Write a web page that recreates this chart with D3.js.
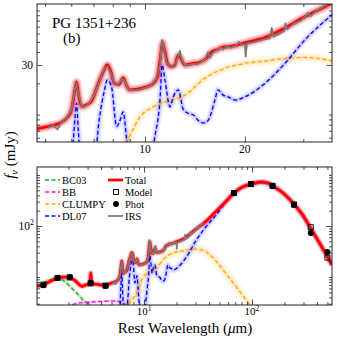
<!DOCTYPE html>
<html><head><meta charset="utf-8">
<script src="https://cdn.jsdelivr.net/npm/d3@7"></script>
<style>body{margin:0;background:#fff}</style>
</head><body>
<svg id="c" width="337" height="339"></svg>
<script>
// ---------- data (wavelength in micron, flux in mJy) ----------
const totalLam = [1.02,1.17,1.4,1.58,1.8,2.05,2.3,2.5,2.65,2.9,3.15,3.21,3.27,3.5,4.0,4.4,4.73,5.2,5.55,5.85,6.0,6.15,6.22,6.32,6.45,6.7,6.9,7.2,7.5,7.7,7.85,8.1,8.35,8.6,8.8,9.0,9.5,10.0,10.5,10.9,11.1,11.3,11.45,11.7,12.0,12.3,12.6,12.8,13.2,14.0,14.5,15.2,15.9,16.5,17.0,17.4,18.0,20,23,26.4,30.3,36.6,46,57,68,80,98,121,140,156,200,249,300,350,450,551];
const totalVal = [6.6,7.1,8.5,9.6,10.0,9.8,8.5,7.2,6.6,7.0,7.5,12,7.5,7.3,7.0,6.8,7.3,7.8,8.3,9.5,11,17,20.5,15,12,12.5,13.5,19,26,30,27,20,19.5,22.5,19,17.3,17.6,18.3,19.5,23,33,49,42,31,29,30,37,35,30,31,31.5,34,40,42,44,44.6,45,48.9,55,68,87,118,190,300,443,570,665,730,700,610,420,258,157,90,37,17.2];

const irsLam = [5.1,5.3,5.45,5.6,5.8,6.0,6.1,6.2,6.3,6.45,6.6,6.8,7.0,7.3,7.55,7.7,7.9,8.1,8.3,8.55,8.7,8.9,9.2,9.6,10.0,10.4,10.8,11.1,11.25,11.4,11.6,11.9,12.2,12.5,12.75,12.9,13.2,13.6,14.0,14.4,14.8,15.2,15.5,15.7,16.0,16.5,17.0,17.2,17.6,18.2,18.8,19.2,19.6,20.0,20.1,20.3,21,22,23,23.8,24.1,24.4,25.5,26.3,26.5,26.8,28,29.5,30.5,31,31.5,33,34.5,35.6];
const irsVal = [7.5,7.9,7.2,8.4,9.2,11,15,20,16,12,12,13,15,21,28,29,25,20,19.5,22,21,17.5,17,17.3,18,19,22,30,52,44,32,29,29.5,33,41,34,30,30,30.5,30.5,32,34,40,35,39,42,44,42,45,44,46,50,47,47,36,48,49,51,53,54,68,56,60,64,75,66,74,80,88,95,88,100,110,114];

const dlLam = [5.0,5.7,6.0,6.15,6.22,6.3,6.45,6.7,7.0,7.3,7.55,7.7,7.93,8.22,8.41,8.6,8.8,9.1,9.6,10.2,10.7,11.1,11.27,11.49,11.9,12.17,12.6,13.05,13.5,14.0,14.47,14.98,15.5,16.25,16.6,17.2,17.8,18.7,20,23,26.4,30.3,36.6,46,57,68,80,98,121,156,249,351,551];
const dlVal = [1.0,1.5,3.0,9,12.9,7,2.5,2.0,2.8,9.5,17,21.5,18.5,7.7,8.8,10.6,6,2.5,1.5,2.5,6,13.8,30,21.5,11.9,14.8,17.3,11.2,10.3,9.9,8.8,8.3,8.8,13.8,17.3,15.4,14.8,13.8,14.8,20,31,52,91,160,290,430,560,650,715,600,255,88,17];

const clLam = [6.0,7.16,8.8,9.66,10.6,11.6,13.2,15.1,17.4,20,23,26.4,30.3,36.5,40,46,56,75,93,110];
const clVal = [1.3,2.83,5.46,9.5,11.9,13.3,15.4,22.2,27.8,31.1,32.7,34.6,35.4,32.7,28,21,12.5,5.6,3.06,1.8];

const bcLam = [1.02,1.13,1.3,1.55,1.86,2.07,2.39,2.75,3.16,3.6,4.5,5.5];
const bcVal = [6.9,7.5,8.6,9.5,8.1,6.5,4.8,3.5,2.83,2.2,1.5,1.0];

const bbLam = [1.6,2.13,2.55,3.2,3.91,4.85,5.99,6.9,8,10];
const bbVal = [1.6,2.83,3.1,3.25,3.3,3.4,3.3,2.83,2.4,1.7];

const photLam = [1.17,1.58,2.05,3.2,4.4,68,98,155,245,350,500];
const photVal = [6.9,9.6,10.0,7.6,6.7,443,665,610,258,73,31];
const modelVal = [7.1,9.6,9.8,7.5,6.8,443,665,615,265,95,24];

const legendLeft = ["BC03","BB","CLUMPY","DL07"];
const legendRight = ["Total","Model","Phot","IRS"];

const topXMajor = [10,20], topXMinor = [5,6,7,8,9,30];
const topYMajor = [30], topYMinor = [6,7,8,9,10,20,40,50,60,70,80,90,100];
const botXMajor = [10,100], botXMinor = [2,3,4,5,6,7,8,9,20,30,40,50,60,70,80,90,200,300,400,500];
const botYMajor = [100], botYMinor = [3,4,5,6,7,8,9,10,20,30,40,50,60,70,80,90,200,300,400,500,600,700,800,900,1000];

// ---------- setup ----------
const svg = d3.select("#c");
const F = "'Liberation Serif','Times New Roman',Times,serif";
const P1 = {x0:37,x1:332,y0:4,y1:142};
const P2 = {x0:37,x1:332,y0:167,y1:305};
const xT = d3.scaleLog().domain([4.73,36.6]).range([P1.x0,P1.x1]);
const yT = d3.scaleLog().domain([5.46,115.4]).range([P1.y1,P1.y0]);
const xB = d3.scaleLog().domain([1.02,551]).range([P2.x0,P2.x1]);
const yB = d3.scaleLog().domain([2.83,1435]).range([P2.y1,P2.y0]);

const zip = (a,b)=>a.map((v,i)=>[v,b[i]]);
const C = {total:"#ff0000", irs:"#7a7a7a", dl:"#0000ff", cl:"#ffa500", bc:"#2ca02c", bb:"#ff00ff"};

const defs = svg.append("defs");
[[P1,"cp1"],[P2,"cp2"]].forEach(([P,id])=>{
  defs.append("clipPath").attr("id",id).append("rect")
    .attr("x",P.x0).attr("y",P.y0).attr("width",P.x1-P.x0).attr("height",P.y1-P.y0);
});

function drawPanel(P, cp, x, y, bottom){
  const g = svg.append("g").attr("clip-path",`url(#${cp})`);
  const lineS = d3.line().x(d=>x(d[0])).y(d=>y(d[1])).curve(d3.curveMonotoneX);
  const lineL = d3.line().x(d=>x(d[0])).y(d=>y(d[1]));
  const path = (data,gen,col,w,op,dash)=>{
    const p = g.append("path").datum(data).attr("d",gen).attr("fill","none")
      .attr("stroke",col).attr("stroke-width",w).attr("stroke-opacity",op)
      .attr("stroke-linejoin","round").attr("stroke-linecap","butt");
    if(dash) p.attr("stroke-dasharray",dash);
  };
  const tot = zip(totalLam,totalVal), dl = zip(dlLam,dlVal), cl = zip(clLam,clVal),
        bc = zip(bcLam,bcVal), bb = zip(bbLam,bbVal), irs = zip(irsLam,irsVal);
  // posterior-sample bands
  path(cl,lineS,C.cl,9,0.10); path(cl,lineS,C.cl,4,0.15);
  path(dl,lineS,C.dl,7,0.08); path(dl,lineS,C.dl,3.5,0.15);
  if(bottom){ path(bc,lineS,C.bc,4,0.2); path(bb,lineS,C.bb,3,0.2); }
  path(tot,lineS,C.total,bottom?6:9,0.18); path(tot,lineS,C.total,bottom?4:5.5,0.3);
  // components
  if(bottom){ path(bc,lineS,C.bc,1.3,1,"4,2.5"); path(bb,lineS,C.bb,1.3,1,"4,2.5"); }
  path(cl,lineS,C.cl,1.3,1,"4,2.5");
  path(dl,lineS,C.dl,1.3,1,"4,2.5");
  path(tot,lineS,C.total,2.8,1);
  path(irs,lineL,C.irs,1.8,1);
  if(bottom){
    g.selectAll("rect.m").data(zip(photLam,modelVal)).join("rect").attr("class","m")
      .attr("x",d=>x(d[0])-2.5).attr("y",d=>y(d[1])-2.5).attr("width",5).attr("height",5)
      .attr("fill","none").attr("stroke","#000").attr("stroke-width",0.9);
    g.selectAll("circle.p").data(zip(photLam,photVal)).join("circle").attr("class","p")
      .attr("cx",d=>x(d[0])).attr("cy",d=>y(d[1])).attr("r",3).attr("fill","#000");
  }
}

function axesFor(P, x, y, xMaj, xMin, yMaj, yMin){
  const ax = svg.append("g");
  const tk = (fn,scale,vals,size,tr)=>{
    ax.append("g").attr("transform",tr)
      .call(fn(scale).tickValues(vals.filter(v=>v>=scale.domain()[0]&&v<=scale.domain()[1])).tickSize(-size).tickFormat(""))
      .call(s=>{s.select(".domain").remove(); s.selectAll("line").attr("stroke","#222").attr("stroke-width",0.8);});
  };
  tk(d3.axisBottom,x,xMaj,5.5,`translate(0,${P.y1})`); tk(d3.axisBottom,x,xMin,3,`translate(0,${P.y1})`);
  tk(d3.axisTop,x,xMaj,5.5,`translate(0,${P.y0})`); tk(d3.axisTop,x,xMin,3,`translate(0,${P.y0})`);
  tk(d3.axisLeft,y,yMaj,5.5,`translate(${P.x0},0)`); tk(d3.axisLeft,y,yMin,3,`translate(${P.x0},0)`);
  tk(d3.axisRight,y,yMaj,5.5,`translate(${P.x1},0)`); tk(d3.axisRight,y,yMin,3,`translate(${P.x1},0)`);
  svg.append("rect").attr("x",P.x0).attr("y",P.y0).attr("width",P.x1-P.x0).attr("height",P.y1-P.y0)
    .attr("fill","none").attr("stroke","#222").attr("stroke-width",1);
}

drawPanel(P1,"cp1",xT,yT,false);
drawPanel(P2,"cp2",xB,yB,true);
axesFor(P1,xT,yT,topXMajor,topXMinor,topYMajor,topYMinor);
axesFor(P2,xB,yB,botXMajor,botXMinor,botYMajor,botYMinor);

// tick labels
const T = svg.append("g").attr("font-family",F).attr("fill","#000");
topXMajor.forEach(v=>T.append("text").attr("x",xT(v)).attr("y",153).attr("text-anchor","middle").attr("font-size",11.5).text(String(v)));
topYMajor.forEach(v=>T.append("text").attr("x",33).attr("y",yT(v)+4).attr("text-anchor","end").attr("font-size",11.5).text(String(v)));
botXMajor.forEach(v=>{
  const t = T.append("text").attr("x",xB(v)).attr("y",315).attr("text-anchor","middle").attr("font-size",11);
  t.append("tspan").text("10");
  t.append("tspan").attr("dy",-4.5).attr("font-size",7.5).text(String(Math.round(Math.log10(v))));
});
botYMajor.forEach(v=>{
  const t = T.append("text").attr("x",34).attr("y",yB(v)+4).attr("text-anchor","end").attr("font-size",11.5);
  t.append("tspan").text("10");
  t.append("tspan").attr("dy",-5).attr("font-size",8).text(String(Math.round(Math.log10(v))));
});

// axis titles
const yl = T.append("text").attr("transform","translate(15,155) rotate(-90)").attr("text-anchor","middle").attr("font-size",15);
yl.append("tspan").attr("font-style","italic").text("f");
yl.append("tspan").attr("dy",3).attr("font-size",10.5).attr("font-style","italic").text("ν");
yl.append("tspan").attr("dy",-3).text(" (mJy)");
const xl = T.append("text").attr("x",185).attr("y",333).attr("text-anchor","middle").attr("font-size",15);
xl.append("tspan").text("Rest Wavelength (");
xl.append("tspan").attr("font-style","italic").text("μ");
xl.append("tspan").text("m)");

// title
T.append("text").attr("x",52).attr("y",28).attr("font-size",15).text("PG 1351+236");
T.append("text").attr("x",63).attr("y",43).attr("font-size",15).text("(b)");

// legend
const L = svg.append("g").attr("font-family",F).attr("font-size",10.5);
const lcol = [C.bc,C.bb,C.cl,C.dl];
legendLeft.forEach((name,i)=>{
  const yy = 180 + i*12;
  L.append("line").attr("x1",45).attr("x2",60).attr("y1",yy).attr("y2",yy).attr("stroke",lcol[i]).attr("stroke-width",1.3).attr("stroke-dasharray","4,2.5");
  L.append("text").attr("x",62).attr("y",yy+3.5).text(name);
});
legendRight.forEach((name,i)=>{
  const yy = 180 + i*12;
  if(name==="Total") L.append("line").attr("x1",108).attr("x2",123).attr("y1",yy).attr("y2",yy).attr("stroke",C.total).attr("stroke-width",2.8);
  if(name==="IRS") L.append("line").attr("x1",108).attr("x2",123).attr("y1",yy).attr("y2",yy).attr("stroke",C.irs).attr("stroke-width",1.8);
  if(name==="Model") L.append("rect").attr("x",113.5).attr("y",yy-2.5).attr("width",5).attr("height",5).attr("fill","none").attr("stroke","#000").attr("stroke-width",0.9);
  if(name==="Phot") L.append("circle").attr("cx",116).attr("cy",yy).attr("r",3).attr("fill","#000");
  L.append("text").attr("x",125).attr("y",yy+3.5).text(name);
});
</script>
</body></html>
